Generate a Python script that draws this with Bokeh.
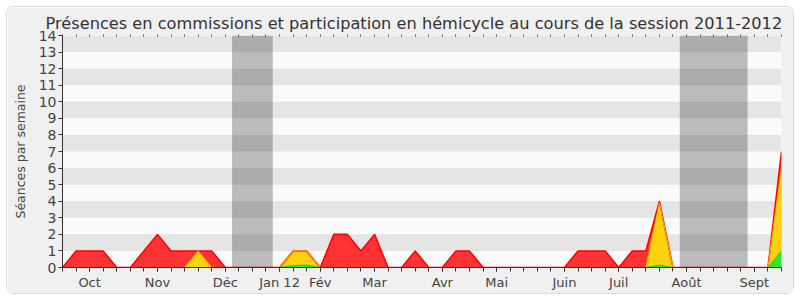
from bokeh.plotting import figure
from bokeh.models import FixedTicker, Range1d, BoxAnnotation, LinearAxis, Title
from bokeh.embed import file_html
from bokeh.resources import INLINE

weeks = list(range(54))
red = [0, 1, 1, 1, 0, 0, 1, 2, 1, 1, 1, 1, 0, 0, 0, 0, 0, 1, 1, 0,
       2, 2, 1, 2, 0, 0, 1, 0, 0, 1, 1, 0, 0, 0, 0, 0, 0, 0, 1, 1,
       1, 0, 1, 1, 4, 0, 0, 0, 0, 0, 0, 0, 0, 7]
yellow = [0, 0, 0, 0, 0, 0, 0, 0, 0, 0, 1, 0, 0, 0, 0, 0, 0, 1, 1, 0,
          0, 0, 0, 0, 0, 0, 0, 0, 0, 0, 0, 0, 0, 0, 0, 0, 0, 0, 0, 0,
          0, 0, 0, 0, 3.9, 0, 0, 0, 0, 0, 0, 0, 0, 6]
green = [0, 0, 0, 0, 0, 0, 0, 0, 0, 0, 0, 0, 0, 0, 0, 0, 0, 0.12, 0.15, 0,
         0, 0, 0, 0, 0, 0, 0, 0, 0, 0, 0, 0, 0, 0, 0, 0, 0, 0, 0, 0,
         0, 0, 0, 0, 0.15, 0, 0, 0, 0, 0, 0, 0, 0, 1]
month_weeks = [2, 7, 12, 16, 19, 23, 28, 32, 37, 41, 46, 51]
month_labels = ["Oct", "Nov", "Déc", "Jan 12", "Fév", "Mar", "Avr", "Mai",
                "Juin", "Juil", "Août", "Sept"]
vacations = [(12.5, 15.5), (45.5, 50.5)]
y_ticks = list(range(15))

p = figure(width=788, height=288, output_backend="svg", toolbar_location=None,
           x_range=Range1d(0, 53), y_range=Range1d(0, 14),
           min_border_left=55, min_border_right=14, min_border_top=28,
           min_border_bottom=28)
p.margin = (6, 6, 6, 6)
p.styles = {"border": "1px solid #dcdcdc", "border-radius": "7px",
            "box-sizing": "border-box", "overflow": "hidden"}
p.border_fill_color = "#f0f0f0"
p.background_fill_color = "#fafafa"
p.outline_line_color = None

p.title = Title(text="Présences en commissions et participation en hémicycle au cours de la session 2011-2012",
                align="left", text_font="DejaVu Sans", text_font_size="16.2px",
                text_font_style="normal", text_color="#333333", offset=-17,
                standoff=3)

p.ygrid.ticker = FixedTicker(ticks=y_ticks)
p.ygrid.grid_line_color = None
p.ygrid.band_fill_color = "#e5e5e5"
p.ygrid.band_fill_alpha = 1
p.xgrid.grid_line_color = None

for a, b in vacations:
    p.add_layout(BoxAnnotation(left=a, right=b, fill_color="#000000",
                               fill_alpha=0.25, line_color=None))

p.varea(x=weeks, y1=0, y2=red, fill_color="#ff3333")
p.varea(x=weeks, y1=0, y2=yellow, fill_color="#ffd20f")
p.varea(x=weeks, y1=0, y2=green, fill_color="#2ee82e")
p.line(x=weeks, y=red, line_color="#ff0000", line_width=1.5)
p.line(x=weeks, y=yellow, line_color="#ffb000", line_width=1)
p.line(x=weeks, y=green, line_color="#22cc22", line_width=1)

# x axis: month labels as major ticks, every week as a minor tick
p.xaxis.ticker = FixedTicker(ticks=month_weeks, minor_ticks=weeks)
p.xaxis.major_label_overrides = {w: l for w, l in zip(month_weeks, month_labels)}
p.xaxis.major_label_text_font = "DejaVu Sans"
p.xaxis.major_label_text_font_size = "13px"
p.xaxis.major_label_text_color = "#444444"
p.xaxis.major_label_standoff = 3
p.xaxis.major_tick_in = 0
p.xaxis.major_tick_out = 4
p.xaxis.minor_tick_in = 0
p.xaxis.minor_tick_out = 4
p.xaxis.major_tick_line_color = "#333333"
p.xaxis.minor_tick_line_color = "#333333"
p.xaxis.axis_line_color = "#333333"

# y axis
p.yaxis.ticker = FixedTicker(ticks=y_ticks)
p.yaxis.major_label_text_font = "DejaVu Sans"
p.yaxis.major_label_text_font_size = "14px"
p.yaxis.major_label_text_color = "#444444"
p.yaxis.major_label_standoff = 2
p.yaxis.major_tick_in = 0
p.yaxis.major_tick_out = 4
p.yaxis.major_tick_line_color = "#333333"
p.yaxis.minor_tick_line_color = None
p.yaxis.axis_line_color = "#333333"
p.yaxis.axis_label = "Séances par semaine"
p.yaxis.axis_label_text_font = "DejaVu Sans"
p.yaxis.axis_label_text_font_size = "12.5px"
p.yaxis.axis_label_text_font_style = "normal"
p.yaxis.axis_label_text_color = "#444444"
p.yaxis.axis_label_standoff = 8

# dotted marks along the top (minor ticks only, no labels)
top = LinearAxis(ticker=FixedTicker(ticks=[], minor_ticks=weeks),
                 axis_line_color=None, major_tick_line_color=None,
                 minor_tick_in=1, minor_tick_out=1,
                 minor_tick_line_color="#555555")
p.add_layout(top, "above")

open("out.html", "w").write(file_html(p, INLINE))
